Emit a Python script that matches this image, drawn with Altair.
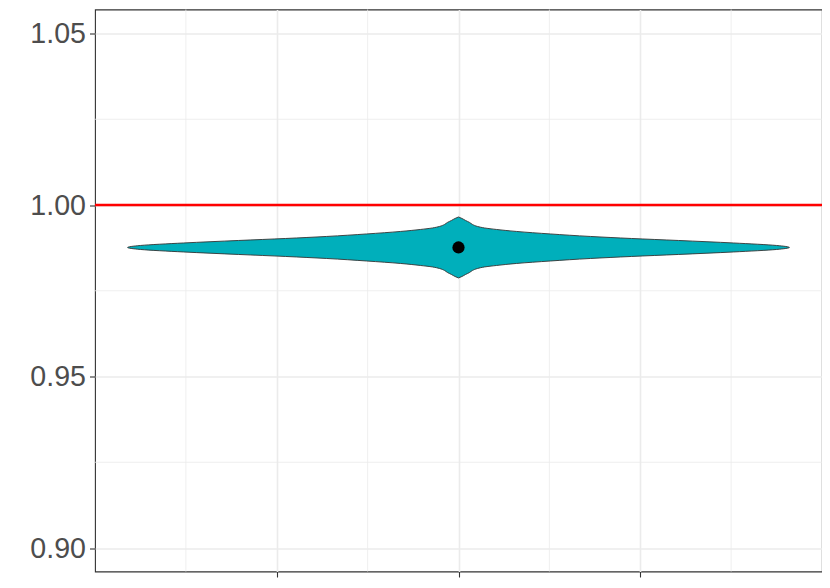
import altair as alt
import pandas as pd

# Violin outline: y values (bottom to top) and half-widths in x units
violin_y = [0.97873, 0.97916, 0.97975, 0.98033, 0.98092, 0.98150, 0.98194,
            0.98237, 0.98296, 0.98368, 0.98441, 0.98500, 0.98558, 0.98631,
            0.98704, 0.98762, 0.98820, 0.98893, 0.98966, 0.99024, 0.99083,
            0.99156, 0.99229, 0.99287, 0.99331, 0.99374, 0.99433, 0.99491,
            0.99549, 0.99608, 0.99651]
violin_halfwidth = [0.0, 0.019, 0.039, 0.061, 0.077, 0.105, 0.143, 0.209,
                    0.319, 0.506, 0.726, 0.952, 1.210, 1.513, 1.750, 1.821,
                    1.750, 1.513, 1.210, 0.952, 0.726, 0.506, 0.319, 0.209,
                    0.143, 0.105, 0.077, 0.061, 0.039, 0.019, 0.0]
violin_x = 2.0
mean_value = 0.98762
ref_line = 1.0

y_ticks = [0.90, 0.95, 1.00, 1.05]
y_minor = [0.925, 0.975, 1.025]
x_ticks = [1, 2, 3]
x_minor = [0.5, 1.5, 2.5, 3.5]

y_dom = [0.89315, 1.0570]
x_dom = [0, 4]

vdf = pd.DataFrame({
    "y": violin_y,
    "lo": [violin_x - w for w in violin_halfwidth],
    "hi": [violin_x + w for w in violin_halfwidth],
})
pdf = pd.DataFrame({"x": [violin_x], "y": [mean_value]})
rdf = pd.DataFrame({"y": [ref_line]})
ymin_df = pd.DataFrame({"y": y_minor})
xmin_df = pd.DataFrame({"x": x_minor})

xscale = alt.Scale(domain=x_dom, nice=False, zero=False)
yscale = alt.Scale(domain=y_dom, nice=False, zero=False)

xaxis = alt.Axis(values=x_ticks, labels=False, title=None, domain=False,
                 tickColor="#333333", tickSize=5.5, tickWidth=1.1,
                 grid=True, gridColor="#EBEBEB", gridWidth=1.6)
yaxis = alt.Axis(values=y_ticks, format=".2f", title=None, domain=False,
                 tickColor="#333333", tickSize=5.5, tickWidth=1.1,
                 labelFont="Liberation Sans", labelFontSize=28.6,
                 labelColor="#4D4D4D", labelPadding=4,
                 grid=True, gridColor="#EBEBEB", gridWidth=1.6)

minor_y = alt.Chart(ymin_df).mark_rule(color="#EBEBEB", strokeWidth=0.8).encode(
    y=alt.Y("y:Q", scale=yscale, axis=yaxis))
minor_x = alt.Chart(xmin_df).mark_rule(color="#EBEBEB", strokeWidth=0.8).encode(
    x=alt.X("x:Q", scale=xscale, axis=xaxis))

violin = alt.Chart(vdf).mark_area(
    orient="horizontal", fill="#00AFBB", stroke="#333333", strokeWidth=0.9,
    opacity=1, fillOpacity=1, interpolate="monotone"
).encode(
    y=alt.Y("y:Q", scale=yscale, axis=yaxis),
    x=alt.X("lo:Q", scale=xscale, axis=xaxis),
    x2="hi:Q",
)

point = alt.Chart(pdf).mark_point(filled=True, color="black", size=150, opacity=1).encode(
    x=alt.X("x:Q", scale=xscale, axis=xaxis),
    y=alt.Y("y:Q", scale=yscale, axis=yaxis),
)

hline = alt.Chart(rdf).mark_rule(color="#FF0000", strokeWidth=2.5).encode(
    y=alt.Y("y:Q", scale=yscale, axis=yaxis))

chart = alt.layer(minor_y, minor_x, violin, point, hline).properties(
    width=727, height=562,
    padding={"left": 87, "top": 1.5, "right": 0, "bottom": 8},
    autosize=alt.AutoSizeParams(type="none"),
    background="white",
).configure_view(stroke="#333333", strokeWidth=1.1)

chart.save("out.html", embed_options={"renderer": "svg", "actions": False})
